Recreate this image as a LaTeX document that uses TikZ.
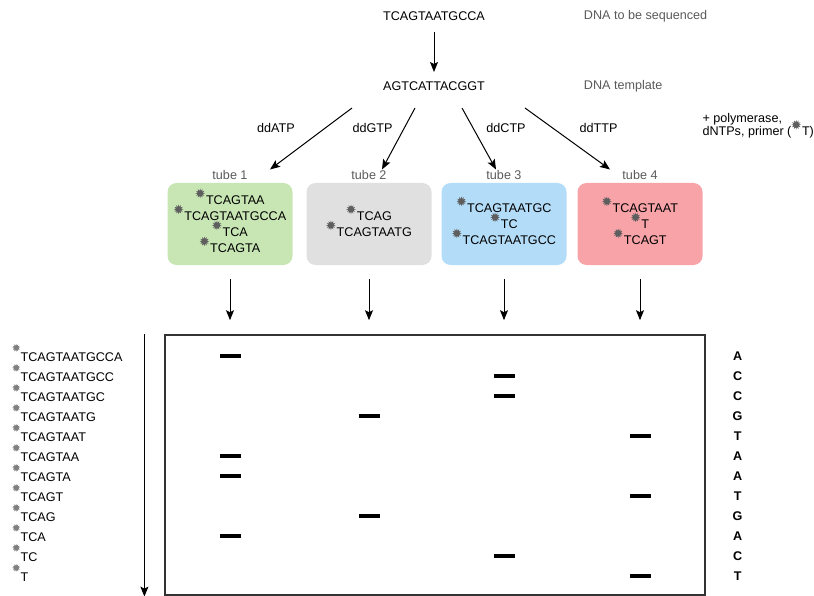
\documentclass[tikz,border=0pt]{standalone}
\usepackage{fontspec}
\setmainfont{Liberation Sans}
\usepackage{tikz}
\usepackage{xcolor}
\definecolor{note_gray}{HTML}{5A5A5A}
\definecolor{star_gray}{HTML}{5E5E5E}
\definecolor{tube_green}{HTML}{C8E6B4}
\definecolor{tube_gray}{HTML}{E0E0E0}
\definecolor{tube_blue}{HTML}{B3DCF8}
\definecolor{tube_red}{HTML}{F7A3A8}
\usetikzlibrary{positioning,calc,arrows.meta}
\tikzset{NOTE/.style={text=note_gray}}
\tikzset{TUBE/.style={rectangle,rounded corners=9pt,minimum width=125pt,minimum height=82pt,align=center,font=\fontsize{12.6}{16}\selectfont}}
\tikzset{ARROW/.style={line width=1pt, -{Stealth[length=10pt,width=8pt,inset=2pt]}}}
\tikzset{GEL/.style={rectangle,draw=black!80,line width=1.2pt,minimum width=540pt,minimum height=260pt}}
\tikzset{BAND/.style={rectangle,fill=black,minimum width=21pt,minimum height=4pt,inner sep=0pt}}
\tikzset{LADDER/.style={anchor=west,inner sep=0pt}}
\tikzset{BASE/.style={font=\fontsize{12.6}{14}\selectfont\bfseries}}
\newcommand{\starburst}[2]{\tikz[baseline=0pt,x=1pt,y=1pt,sharp corners]\fill[#2] (0:#1) \foreach \a in {0,30,...,330}{ -- (\a+15:{0.55*#1}) -- (\a+30:#1)} -- cycle;}
\newcommand{\primerstar}{\smash{\raisebox{11pt}{\starburst{4.8}{star_gray}}}\kern1pt}
\newcommand{\ladderstar}{\smash{\raisebox{13.5pt}{\starburst{4}{star_gray!80}}}\kern0.5pt}

\begin{document}
\begin{tikzpicture}[x=1pt,y=-1pt,font=\fontsize{12.6}{14}\selectfont]
\useasboundingbox (0,0) rectangle (814,596);

\node (n_dna) at (434,16) {TCAGTAATGCCA};
\node[NOTE, right=92pt of n_dna] (n_dna_note) {DNA to be sequenced};

\node (n_template) at ($(n_dna)+(0,70)$) {AGTCATTACGGT};
\node[NOTE, right=92pt of n_template] (n_template_note) {DNA template};

\draw[ARROW] ($(n_dna.south)+(0,8)$) -- ($(n_template.north)+(0,-6)$);

\node[anchor=west, align=left, font=\fontsize{12.6}{13}\selectfont] (n_mix) at (699,126) {+ polymerase,\\dNTPs, primer (\primerstar T)};

% tubes
\node[TUBE, fill=tube_green] (n_tube1) at (230,224) {\primerstar TCAGTAA\\\primerstar TCAGTAATGCCA\\\primerstar TCA\\\primerstar TCAGTA};
\node[TUBE, fill=tube_gray] (n_tube2) at (369,224) {\primerstar TCAG\\\primerstar TCAGTAATG};
\node[TUBE, fill=tube_blue] (n_tube3) at (504,224) {\primerstar TCAGTAATGC\\\primerstar TC\\\primerstar TCAGTAATGCC};
\node[TUBE, fill=tube_red] (n_tube4) at (640,224) {\primerstar TCAGTAAT\\\primerstar T\\\primerstar TCAGT};

\node[NOTE, above=0pt of n_tube1] (n_tube1_label) {tube 1};
\node[NOTE, above=0pt of n_tube2] (n_tube2_label) {tube 2};
\node[NOTE, above=0pt of n_tube3] (n_tube3_label) {tube 3};
\node[NOTE, above=0pt of n_tube4] (n_tube4_label) {tube 4};

\coordinate (c_tmpl_a) at ($(n_template)+(-82,22)$);
\coordinate (c_tube_a) at ($(n_tube1_label.north)+(40,3)$);
\draw[ARROW] (c_tmpl_a) -- (c_tube_a) node[midway,xshift=-35pt,yshift=11pt]{ddATP};

\coordinate (c_tmpl_g) at ($(n_template)+(-19,22)$);
\coordinate (c_tube_g) at ($(n_tube2_label.north)+(13,3)$);
\draw[ARROW] (c_tmpl_g) -- (c_tube_g) node[midway,xshift=-26pt,yshift=11pt]{ddGTP};

\coordinate (c_tmpl_c) at ($(n_template)+(28,22)$);
\coordinate (c_tube_c) at ($(n_tube3_label.north)+(-8,3)$);
\draw[ARROW] (c_tmpl_c) -- (c_tube_c) node[midway,xshift=27pt,yshift=11pt]{ddCTP};

\coordinate (c_tmpl_t) at ($(n_template)+(91,22)$);
\coordinate (c_tube_t) at ($(n_tube4_label.north)+(-30,3)$);
\draw[ARROW] (c_tmpl_t) -- (c_tube_t) node[midway,xshift=31pt,yshift=11pt]{ddTTP};

% gel
\node[GEL] (n_gel) at (435,465) {};

\draw[ARROW] ($(n_tube1.south)+(0,14)$) -- ($(n_tube1.south)+(0,55)$);
\draw[ARROW] ($(n_tube2.south)+(0,14)$) -- ($(n_tube2.south)+(0,55)$);
\draw[ARROW] ($(n_tube3.south)+(0,14)$) -- ($(n_tube3.south)+(0,55)$);
\draw[ARROW] ($(n_tube4.south)+(0,14)$) -- ($(n_tube4.south)+(0,55)$);

\draw[ARROW] ($(n_gel.north west)+(-20,0)$) -- ($(n_gel.south west)+(-20,1)$);

\coordinate (c_row_1) at (0,356);
\coordinate (c_row_2) at ($(c_row_1)+(0,20)$);
\coordinate (c_row_3) at ($(c_row_2)+(0,20)$);
\coordinate (c_row_4) at ($(c_row_3)+(0,20)$);
\coordinate (c_row_5) at ($(c_row_4)+(0,20)$);
\coordinate (c_row_6) at ($(c_row_5)+(0,20)$);
\coordinate (c_row_7) at ($(c_row_6)+(0,20)$);
\coordinate (c_row_8) at ($(c_row_7)+(0,20)$);
\coordinate (c_row_9) at ($(c_row_8)+(0,20)$);
\coordinate (c_row_10) at ($(c_row_9)+(0,20)$);
\coordinate (c_row_11) at ($(c_row_10)+(0,20)$);
\coordinate (c_row_12) at ($(c_row_11)+(0,20)$);

\node[LADDER] (n_frag_1) at ($(c_row_1)+(12,1)$) {\ladderstar TCAGTAATGCCA};
\node[LADDER] (n_frag_2) at ($(c_row_2)+(12,1)$) {\ladderstar TCAGTAATGCC};
\node[LADDER] (n_frag_3) at ($(c_row_3)+(12,1)$) {\ladderstar TCAGTAATGC};
\node[LADDER] (n_frag_4) at ($(c_row_4)+(12,1)$) {\ladderstar TCAGTAATG};
\node[LADDER] (n_frag_5) at ($(c_row_5)+(12,1)$) {\ladderstar TCAGTAAT};
\node[LADDER] (n_frag_6) at ($(c_row_6)+(12,1)$) {\ladderstar TCAGTAA};
\node[LADDER] (n_frag_7) at ($(c_row_7)+(12,1)$) {\ladderstar TCAGTA};
\node[LADDER] (n_frag_8) at ($(c_row_8)+(12,1)$) {\ladderstar TCAGT};
\node[LADDER] (n_frag_9) at ($(c_row_9)+(12,1)$) {\ladderstar TCAG};
\node[LADDER] (n_frag_10) at ($(c_row_10)+(12,1)$) {\ladderstar TCA};
\node[LADDER] (n_frag_11) at ($(c_row_11)+(12,1)$) {\ladderstar TC};
\node[LADDER] (n_frag_12) at ($(c_row_12)+(12,1)$) {\ladderstar T};

\node[BAND] (n_band_1) at (c_row_1 -| n_tube1) {};
\node[BAND] (n_band_2) at (c_row_2 -| n_tube3) {};
\node[BAND] (n_band_3) at (c_row_3 -| n_tube3) {};
\node[BAND] (n_band_4) at (c_row_4 -| n_tube2) {};
\node[BAND] (n_band_5) at (c_row_5 -| n_tube4) {};
\node[BAND] (n_band_6) at (c_row_6 -| n_tube1) {};
\node[BAND] (n_band_7) at (c_row_7 -| n_tube1) {};
\node[BAND] (n_band_8) at (c_row_8 -| n_tube4) {};
\node[BAND] (n_band_9) at (c_row_9 -| n_tube2) {};
\node[BAND] (n_band_10) at (c_row_10 -| n_tube1) {};
\node[BAND] (n_band_11) at (c_row_11 -| n_tube3) {};
\node[BAND] (n_band_12) at (c_row_12 -| n_tube4) {};

\node[BASE] (n_base_1) at ($(c_row_1 -| n_gel.east)+(32,0)$) {A};
\node[BASE] (n_base_2) at ($(c_row_2 -| n_gel.east)+(32,0)$) {C};
\node[BASE] (n_base_3) at ($(c_row_3 -| n_gel.east)+(32,0)$) {C};
\node[BASE] (n_base_4) at ($(c_row_4 -| n_gel.east)+(32,0)$) {G};
\node[BASE] (n_base_5) at ($(c_row_5 -| n_gel.east)+(32,0)$) {T};
\node[BASE] (n_base_6) at ($(c_row_6 -| n_gel.east)+(32,0)$) {A};
\node[BASE] (n_base_7) at ($(c_row_7 -| n_gel.east)+(32,0)$) {A};
\node[BASE] (n_base_8) at ($(c_row_8 -| n_gel.east)+(32,0)$) {T};
\node[BASE] (n_base_9) at ($(c_row_9 -| n_gel.east)+(32,0)$) {G};
\node[BASE] (n_base_10) at ($(c_row_10 -| n_gel.east)+(32,0)$) {A};
\node[BASE] (n_base_11) at ($(c_row_11 -| n_gel.east)+(32,0)$) {C};
\node[BASE] (n_base_12) at ($(c_row_12 -| n_gel.east)+(32,0)$) {T};

\end{tikzpicture}
\end{document}
